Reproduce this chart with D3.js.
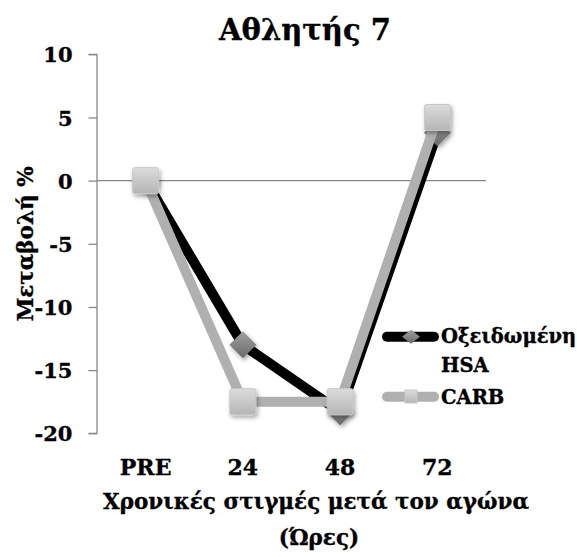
<!DOCTYPE html>
<html><head><meta charset="utf-8">
<script src="https://cdn.jsdelivr.net/npm/d3@7"></script>
<style>body{margin:0;background:#fff}</style>
</head><body>
<svg id="c" width="577" height="557"></svg>
<script>
const categories = ["PRE", "24", "48", "72"];
const hsaValues = [0, -13, -18.3, 3.8];
const carbValues = [0, -17.5, -17.5, 5];
const yTicks = [10, 5, 0, -5, -10, -15, -20];
const seriesNames = ["Οξειδωμένη HSA", "CARB"];

const svg = d3.select("#c");
const font = "'DejaVu Serif', serif";
const x = d3.scaleBand().domain(categories).range([97, 486]);
const y = d3.scaleLinear().domain([-20, 10]).range([433.3, 54.3]);
const cx = d => x(d) + x.bandwidth() / 2;

const defs = svg.append("defs");
const g1 = defs.append("linearGradient").attr("id", "sq").attr("x1", 0).attr("y1", 0).attr("x2", 0).attr("y2", 1);
g1.append("stop").attr("offset", "0%").attr("stop-color", "#dcdcdc");
g1.append("stop").attr("offset", "100%").attr("stop-color", "#b5b5b5");
const g2 = defs.append("linearGradient").attr("id", "dm").attr("x1", 0).attr("y1", 0).attr("x2", 0).attr("y2", 1);
g2.append("stop").attr("offset", "0%").attr("stop-color", "#a0a0a0");
g2.append("stop").attr("offset", "100%").attr("stop-color", "#6a6a6a");
const f = defs.append("filter").attr("id", "sh").attr("x", "-50%").attr("y", "-50%").attr("width", "200%").attr("height", "200%");
f.append("feDropShadow").attr("dx", 1.5).attr("dy", 2.5).attr("stdDeviation", 2).attr("flood-color", "#000").attr("flood-opacity", 0.35);

const boldText = sel => sel.attr("font-family", font).attr("font-weight", "bold").attr("fill", "#000")
  .attr("stroke", "#000").attr("stroke-width", 0.35);

// y axis
const yAxis = d3.axisLeft(y).tickValues(yTicks).tickSize(8.5).tickPadding(16).tickFormat(d => String(d));
const ya = svg.append("g").attr("transform", "translate(97,0)").call(yAxis);
ya.select(".domain").attr("stroke", "#888").attr("stroke-width", 1.3).attr("d", `M-8.5,${y(10)}H0V${y(-20)}H-8.5`);
ya.selectAll(".tick line").attr("stroke", "#888").attr("stroke-width", 1.3);
ya.selectAll(".tick text").call(boldText).attr("font-size", 21).attr("dy", "0.36em");

// zero line
svg.append("line").attr("x1", 97).attr("x2", 486).attr("y1", y(0)).attr("y2", y(0)).attr("stroke", "#888").attr("stroke-width", 1.3);

// x tick labels
const xAxis = d3.axisBottom(x).tickSize(0).tickPadding(0);
const xa = svg.append("g").attr("transform", "translate(0,475)").call(xAxis);
xa.select(".domain").remove();
xa.selectAll(".tick text").call(boldText).attr("font-size", 22).attr("dy", 0);

const line = d3.line().x((d, i) => cx(categories[i])).y(d => y(d));
// HSA
svg.append("path").datum(hsaValues).attr("d", line).attr("fill", "none").attr("stroke", "#000").attr("stroke-width", 10).attr("stroke-linejoin", "round").attr("stroke-linecap", "round");
const ds = 13.5;
svg.selectAll(".dm").data(hsaValues).join("path").attr("class", "dm")
  .attr("d", (d, i) => `M${cx(categories[i])},${y(d) - ds}l${ds},${ds}l${-ds},${ds}l${-ds},${-ds}Z`)
  .attr("fill", "url(#dm)").attr("filter", "url(#sh)");
// CARB
svg.append("path").datum(carbValues).attr("d", line).attr("fill", "none").attr("stroke", "#b0b0b0").attr("stroke-width", 10).attr("stroke-linejoin", "round").attr("stroke-linecap", "round");
const ss = 26;
svg.selectAll(".sq").data(carbValues).join("rect").attr("class", "sq")
  .attr("x", (d, i) => cx(categories[i]) - ss / 2).attr("y", d => y(d) - ss / 2)
  .attr("width", ss).attr("height", ss).attr("rx", 2)
  .attr("fill", "url(#sq)").attr("stroke", "#c8c8c8").attr("stroke-width", 1).attr("filter", "url(#sh)");

// title
svg.append("text").attr("x", 305).attr("y", 40).attr("text-anchor", "middle").call(boldText).attr("font-size", 29).text("Αθλητής 7");

// y title
svg.append("text").attr("transform", "translate(33,244) rotate(-90)").attr("text-anchor", "middle").call(boldText).attr("font-size", 21.5).text("Μεταβολή %");

// x title
const xt = svg.append("text").attr("text-anchor", "middle").call(boldText).attr("font-size", 21.5);
xt.append("tspan").attr("x", 316).attr("y", 509).text("Χρονικές στιγμές μετά τον αγώνα");
xt.append("tspan").attr("x", 319).attr("y", 545).text("(Ώρες)");

// legend
const lg = svg.append("g");
lg.append("line").attr("x1", 387).attr("x2", 434).attr("y1", 336.7).attr("y2", 336.7).attr("stroke", "#000").attr("stroke-width", 10).attr("stroke-linecap", "round");
lg.append("path").attr("d", "M411,329.7l9,7l-9,7l-9,-7Z").attr("fill", "url(#dm)");
lg.append("line").attr("x1", 387).attr("x2", 434).attr("y1", 396.7).attr("y2", 396.7).attr("stroke", "#b0b0b0").attr("stroke-width", 10).attr("stroke-linecap", "round");
lg.append("rect").attr("x", 405).attr("y", 390).attr("width", 12).attr("height", 13).attr("fill", "url(#sq)").attr("stroke", "#c8c8c8");
const lt = lg.append("text").call(boldText).attr("font-size", 19.5);
lt.append("tspan").attr("x", 441).attr("y", 343).text(seriesNames[0].split(" ")[0]);
lt.append("tspan").attr("x", 441).attr("y", 372).text(seriesNames[0].split(" ")[1]);
lg.append("text").attr("x", 441).attr("y", 404).call(boldText).attr("font-size", 19.5).text(seriesNames[1]);
</script>
</body></html>
